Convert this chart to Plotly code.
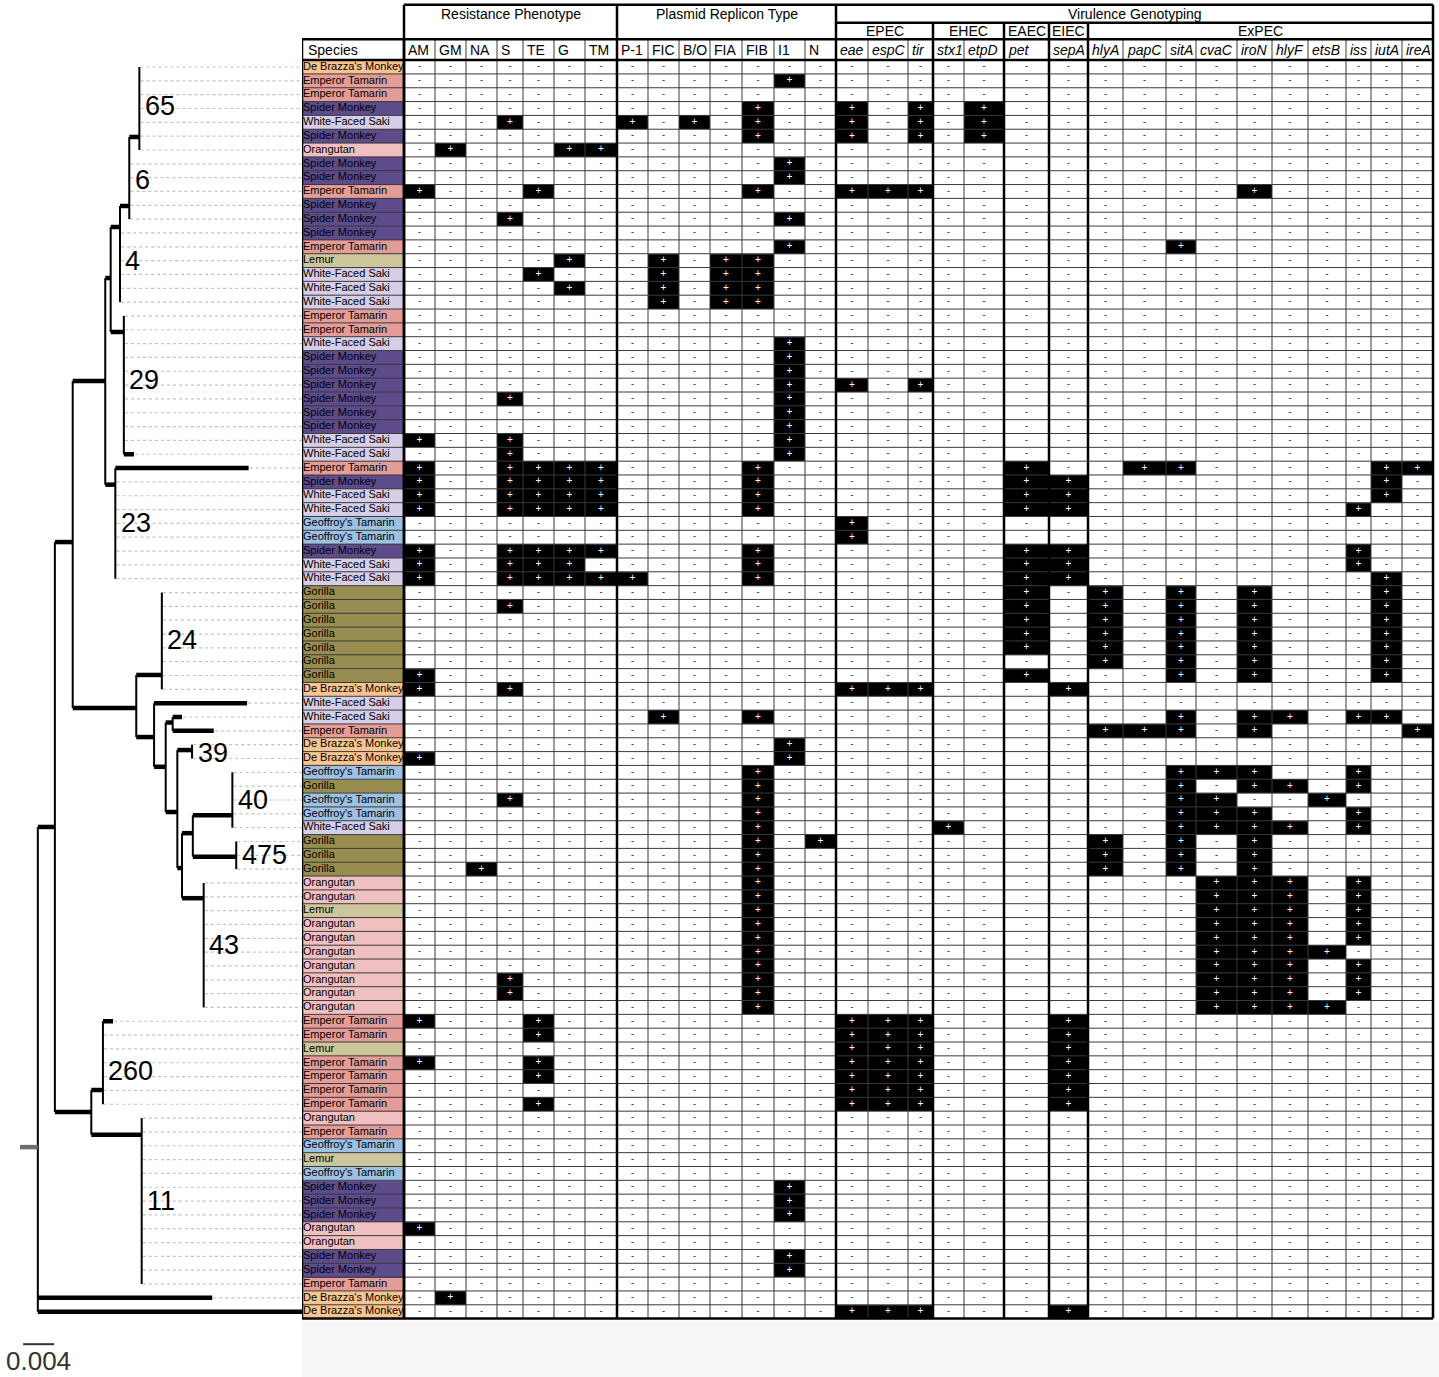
import plotly.graph_objects as go

# ---------------------------------------------------------------- data
species = [
    "De Brazza's Monkey", "Emperor Tamarin", "Emperor Tamarin", "Spider Monkey",
    "White-Faced Saki", "Spider Monkey", "Orangutan", "Spider Monkey", "Spider Monkey",
    "Emperor Tamarin",
    "Spider Monkey", "Spider Monkey", "Spider Monkey", "Emperor Tamarin", "Lemur",
    "White-Faced Saki", "White-Faced Saki", "White-Faced Saki", "Emperor Tamarin",
    "Emperor Tamarin",
    "White-Faced Saki", "Spider Monkey", "Spider Monkey", "Spider Monkey", "Spider Monkey",
    "Spider Monkey", "Spider Monkey", "White-Faced Saki", "White-Faced Saki",
    "Emperor Tamarin",
    "Spider Monkey", "White-Faced Saki", "White-Faced Saki", "Geoffroy's Tamarin",
    "Geoffroy's Tamarin", "Spider Monkey", "White-Faced Saki", "White-Faced Saki",
    "Gorilla", "Gorilla",
    "Gorilla", "Gorilla", "Gorilla", "Gorilla", "Gorilla", "De Brazza's Monkey",
    "White-Faced Saki", "White-Faced Saki", "Emperor Tamarin", "De Brazza's Monkey",
    "De Brazza's Monkey", "Geoffroy's Tamarin", "Gorilla", "Geoffroy's Tamarin",
    "Geoffroy's Tamarin", "White-Faced Saki", "Gorilla", "Gorilla", "Gorilla", "Orangutan",
    "Orangutan", "Lemur", "Orangutan", "Orangutan", "Orangutan", "Orangutan", "Orangutan",
    "Orangutan", "Orangutan", "Emperor Tamarin",
    "Emperor Tamarin", "Lemur", "Emperor Tamarin", "Emperor Tamarin", "Emperor Tamarin",
    "Emperor Tamarin", "Orangutan", "Emperor Tamarin", "Geoffroy's Tamarin", "Lemur",
    "Geoffroy's Tamarin", "Spider Monkey", "Spider Monkey", "Spider Monkey", "Orangutan",
    "Orangutan", "Spider Monkey", "Spider Monkey", "Emperor Tamarin", "De Brazza's Monkey",
    "De Brazza's Monkey",
]

species_colors = {
    "De Brazza's Monkey": "#f9c490",
    "Emperor Tamarin": "#e39c98",
    "Spider Monkey": "#5d4b8b",
    "White-Faced Saki": "#d6cde6",
    "Orangutan": "#f0c0c1",
    "Lemur": "#cdc69b",
    "Geoffroy's Tamarin": "#9ec0e2",
    "Gorilla": "#988d50",
}

resistance_cols = ["AM", "GM", "NA", "S", "TE", "G", "TM"]
replicon_cols = ["P-1", "FIC", "B/O", "FIA", "FIB", "I1", "N"]
virulence_cols = ["eae", "espC", "tir", "stx1", "etpD", "pet", "sepA", "hlyA", "papC",
                  "sitA", "cvaC", "iroN", "hlyF", "etsB", "iss", "iutA", "ireA"]
pathotypes = ["EPEC", "EHEC", "EAEC", "EIEC", "ExPEC"]
pathotype_genes = [3, 2, 1, 1, 10]

# one string per isolate, "+" = positive
R0 = "-------"
resistance_calls = [
    R0, R0, R0, R0, "---+---", R0, "-+---++", R0, R0, "+---+--",                      # 1-10
    R0, "---+---", R0, R0, "-----+-", "----+--", "-----+-", R0, R0, R0,                # 11-20
    R0, R0, R0, R0, "---+---", R0, R0, "+--+---", "---+---", "+--++++",                # 21-30
    "+--++++", "+--++++", "+--++++", R0, R0, "+--++++", "+--+++-", "+--++++", R0,
    "---+---",                                                                         # 31-40
    R0, R0, R0, R0, "+------", "+--+---", R0, R0, R0, R0,                              # 41-50
    "+------", R0, R0, "---+---", R0, R0, R0, R0, "--+----", R0,                       # 51-60
    R0, R0, R0, R0, R0, R0, "---+---", "---+---", R0, "+---+--",                       # 61-70
    "----+--", R0, "+---+--", "----+--", R0, "----+--", R0, R0, R0, R0,                # 71-80
    R0, R0, R0, R0, "+------", R0, R0, R0, R0, "-+-----",                              # 81-90
    R0,                                                                                # 91
]

replicon_calls = [
    R0, "-----+-", R0, "----+--", "+-+-+--", "----+--", R0, "-----+-", "-----+-",
    "----+--",                                                                         # 1-10
    R0, "-----+-", R0, "-----+-", "-+-++--", "-+-++--", "-+-++--", "-+-++--", R0, R0,  # 11-20
    ] + ["-----+-"] * 9 + ["----+--",                                                  # 21-30
    "----+--", "----+--", "----+--", R0, R0, "----+--", "----+--", "+---+--", R0, R0,  # 31-40
    R0, R0, R0, R0, R0, R0, R0, "-+--+--", R0, "-----+-",                              # 41-50
    "-----+-", "----+--", "----+--", "----+--", "----+--", "----+--", "----+-+",
    "----+--", "----+--", "----+--",                                                   # 51-60
    ] + ["----+--"] * 9 + [R0,                                                         # 61-70
    ] + [R0] * 10 + [                                                                  # 71-80
    R0, "-----+-", "-----+-", "-----+-", R0, R0, "-----+-", "-----+-", R0, R0,         # 81-90
    R0,                                                                                # 91
]

V0 = "-----------------"
EPEC_A = "+++---+----------"
GOR = "-----+-+-+-+---+-"
ORA = "----------+++-+--"
ORB = "----------++++---"
virulence_calls = [
    V0, V0, V0, "+-+-+------------", "+-+-+------------", "+-+-+------------", V0, V0,
    V0, "+++--------+-----",                                                           # 1-10
    V0, V0, V0, "---------+-------", V0, V0, V0, V0, V0, V0,                           # 11-20
    V0, V0, V0, "+-+--------------", V0, V0, V0, V0, V0, "-----+--++-----++",          # 21-30
    "-----++--------+-", "-----++--------+-", "-----++-------+--", "+----------------",
    "+----------------", "-----++-------+--", "-----++-------+--", "-----++--------+-",
    GOR, GOR,                                                                          # 31-40
    GOR, GOR, GOR, "-------+-+-+---+-", "-----+---+-+---+-", EPEC_A, V0,
    "---------+-++-++-", "-------+++-+----+", V0,                                      # 41-50
    V0, "---------+++--+--", "---------+-++-+--", "---------++--+---",
    "---------+++--+--", "---+-----++++-+--", "-------+-+-+-----", "-------+-+-+-----",
    "-------+-+-+-----", ORA,                                                          # 51-60
    ORA, ORA, ORA, ORA, ORB, ORA, ORA, ORA, ORB, EPEC_A,                               # 61-70
    EPEC_A, EPEC_A, EPEC_A, EPEC_A, EPEC_A, EPEC_A, V0, V0, V0, V0,                    # 71-80
    V0, V0, V0, V0, V0, V0, V0, V0, V0, V0,                                            # 81-90
    EPEC_A,                                                                            # 91
]

# phylogeny: depth in 0.001 substitutions/site, row where the stem joins
tree_nodes = ["R", "A", "B", "C", "ST260", "ST11", "F", "G", "ST4", "ST6", "ST65",
              "ST29", "ST23", "E", "ST24", "J", "K", "L", "M", "ST39", "N", "O",
              "ST40", "ST475", "ST43"]
tree_parents = [None, "R", "A", "A", "C", "C", "B", "F", "G", "ST4", "ST6",
                "G", "F", "B", "E", "E", "J", "K", "K", "M", "M", "N",
                "O", "O", "N"]
tree_depths = [2.3, 4.5, 6.8, 9.2, 10.7, 15.7, 11.0, 11.7, 12.9, 14.1, 15.4,
               13.4, 12.3, 15.0, 18.3, 17.3, 18.8, 19.7, 20.3, 22.2, 20.9, 22.3,
               27.4, 27.9, 23.7]
tree_rows = [79.1, 55.95, 35.35, 76.56, 74.97, 78.2, 23.7, 16.26, 12.57, 11.05, 6.06,
             20.16, 31.2, 47.35, 44.96, 49.45, 51.6, 48.4, 54.87, 50.39, 58.92, 56.4,
             55.1, 58.1, 61.1]
leaf_parent = (["ST65"] * 7 + ["ST6"] * 5 + ["ST4"] * 6 + ["ST29"] * 11 + ["ST23"] * 9
               + ["ST24"] * 8 + ["J"] + ["L"] * 2 + ["ST39"] * 2 + ["ST40"] * 5
               + ["ST475"] * 3 + ["ST43"] * 10 + ["ST260"] * 7 + ["ST11"] * 13 + ["R"] * 2)
leaf_tip = {29: 14.7, 30: 29.5, 47: 29.3, 48: 20.9, 49: 25.0, 70: 12.0, 90: 24.8, 91: 36.4}

st_nodes = ["ST65", "ST6", "ST4", "ST29", "ST23", "ST24", "ST39", "ST40", "ST475",
            "ST43", "ST260", "ST11"]
st_labels = ["65", "6", "4", "29", "23", "24", "39", "40", "475", "43", "260", "11"]
st_label_rows = [3.85, 9.2, 15.0, 23.6, 34.0, 42.4, 50.6, 54.0, 58.0, 64.5, 73.6, 83.0]

scale_bar = 4.0  # = 0.004

# ---------------------------------------------------------------- layout constants
W, H = 1439, 1377
ROW_PX = 13.83
ROW1_PX = 67
TABLE_LEFT = 302
TREE_PX_PER_UNIT = 7.75
TREE_ORIGIN_PX = 20
col_widths = [102,
              31, 31, 31, 26, 31, 31, 32,
              31, 31, 31, 32, 32, 31, 31,
              32, 40, 25, 31, 40, 45, 39, 35, 43, 30, 41, 35, 36, 38, 25, 31, 31]
FONT = "Liberation Sans, Arial, sans-serif"

edges = [0]
for w in col_widths:
    edges.append(edges[-1] + w)
right = edges[-1]
n_rows = len(species)
rows = list(range(1, n_rows + 1))
y_top = (0 - ROW1_PX) / ROW_PX + 1
y_bot = (H - ROW1_PX) / ROW_PX + 1
tree_max = (TABLE_LEFT - TREE_ORIGIN_PX) / TREE_PX_PER_UNIT

# header levels (row units)
HY_TOP, HY_MID, HY_LAB, HY_BOT = -3.5, -2.2, -1.0, 0.5

fig = go.Figure()

# species column
sp_names = list(species_colors)
n_sp = len(sp_names)
cscale = []
for i, name in enumerate(sp_names):
    cscale += [[i / n_sp, species_colors[name]], [(i + 1) / n_sp, species_colors[name]]]
fig.add_trace(go.Heatmap(
    z=[[sp_names.index(s)] for s in species], x=edges[0:2], y=rows,
    colorscale=cscale, zmin=-0.5, zmax=n_sp - 0.5, showscale=False, hoverinfo="skip"))

# presence / absence matrix
calls = [a + b + c for a, b, c in zip(resistance_calls, replicon_calls, virulence_calls)]
z = [[1 if ch == "+" else 0 for ch in row] for row in calls]
fig.add_trace(go.Heatmap(
    z=z, x=edges[1:], y=rows, colorscale=[[0, "white"], [1, "black"]],
    zmin=0, zmax=1, showscale=False, hoverinfo="skip"))

# grid lines
thick_edges = {0, 1, 8, 15, 18, 20, 21, 22, len(edges) - 1}
thin_x, thin_y, thick_x, thick_y = [], [], [], []
for k, e in enumerate(edges):
    if k in thick_edges:
        continue
    thin_x += [e, e, None]
    thin_y += [HY_LAB, n_rows + 0.5, None]
for r in range(1, n_rows):
    thin_x += [0, right, None]
    thin_y += [r + 0.5, r + 0.5, None]
for k in [0, 1]:
    thick_x += [edges[k], edges[k], None]
    thick_y += [HY_LAB, n_rows + 0.5, None]
for k in [1, 8, 15, len(edges) - 1]:
    thick_x += [edges[k], edges[k], None]
    thick_y += [HY_TOP, n_rows + 0.5, None]
for k in [18, 20, 21, 22]:
    thick_x += [edges[k], edges[k], None]
    thick_y += [HY_MID, n_rows + 0.5, None]
for y0, x0 in [(HY_BOT, 0), (n_rows + 0.5, 0), (HY_LAB, 0), (HY_MID, edges[15]), (HY_TOP, edges[1])]:
    thick_x += [x0, right, None]
    thick_y += [y0, y0, None]

fig.add_trace(go.Scatter(x=thin_x, y=thin_y, mode="lines",
                         line=dict(color="#3a3a3a", width=1), hoverinfo="skip"))
fig.add_trace(go.Scatter(x=thick_x, y=thick_y, mode="lines",
                         line=dict(color="black", width=2.5), hoverinfo="skip"))

# cell symbols
centers = [(edges[j + 1] + edges[j + 2]) / 2 for j in range(len(col_widths) - 1)]
px_, py_, mx_, my_ = [], [], [], []
for r, row in enumerate(calls, start=1):
    for j, ch in enumerate(row):
        if ch == "+":
            px_.append(centers[j]); py_.append(r)
        else:
            mx_.append(centers[j]); my_.append(r)
fig.add_trace(go.Scatter(x=mx_, y=my_, mode="text", text=["-"] * len(mx_),
                         textfont=dict(family=FONT, size=9, color="black"), hoverinfo="skip"))
fig.add_trace(go.Scatter(x=px_, y=py_, mode="text", text=["+"] * len(px_),
                         textfont=dict(family=FONT, size=10, color="white"), hoverinfo="skip"))

# species names
fig.add_trace(go.Scatter(x=[1] * n_rows, y=rows, mode="text", text=species,
                         textposition="middle right",
                         textfont=dict(family=FONT, size=11, color="black"), hoverinfo="skip"))

# ---------------------------------------------------------------- tree
depth = dict(zip(tree_nodes, tree_depths))
stem_row = dict(zip(tree_nodes, tree_rows))
kids = {n: [] for n in tree_nodes}
for n, p in zip(tree_nodes, tree_parents):
    if p:
        kids[p].append(stem_row[n])
for r, p in zip(rows, leaf_parent):
    kids[p].append(r)

hx, hy, vx, vy, dx, dy = [], [], [], [], [], []
for n, p in zip(tree_nodes, tree_parents):
    if p:
        hx += [depth[p], depth[n], None]
        hy += [stem_row[n], stem_row[n], None]
    vx += [depth[n], depth[n], None]
    vy += [min(kids[n]), max(kids[n]), None]
for r, p in zip(rows, leaf_parent):
    tip = leaf_tip.get(r, depth[p])
    if tip > depth[p]:
        hx += [depth[p], tip, None]
        hy += [r, r, None]
    if tip < tree_max:
        dx += [tip + 0.15, tree_max, None]
        dy += [r, r, None]

fig.add_trace(go.Scatter(x=dx, y=dy, xaxis="x2", mode="lines",
                         line=dict(color="#c4c4c4", width=1.2, dash="dot"), hoverinfo="skip"))
fig.add_trace(go.Scatter(x=vx, y=vy, xaxis="x2", mode="lines",
                         line=dict(color="black", width=2), hoverinfo="skip"))
fig.add_trace(go.Scatter(x=hx, y=hy, xaxis="x2", mode="lines",
                         line=dict(color="black", width=4.5), hoverinfo="skip"))
fig.add_trace(go.Scatter(x=[0, depth["R"]], y=[stem_row["R"]] * 2, xaxis="x2", mode="lines",
                         line=dict(color="#6e6e6e", width=4.5), hoverinfo="skip"))

# scale bar
fig.add_trace(go.Scatter(x=[0.4, 0.4 + scale_bar], y=[93.35, 93.35], xaxis="x2", mode="lines",
                         line=dict(color="#333333", width=2), hoverinfo="skip"))

annotations = []
for n, lab, yr in zip(st_nodes, st_labels, st_label_rows):
    annotations.append(dict(x=depth[n] + 0.45, y=yr, xref="x2", yref="y", text=lab,
                            showarrow=False, xanchor="left", yanchor="middle",
                            font=dict(family=FONT, size=27, color="black")))
annotations.append(dict(x=2.4, y=94.55, xref="x2", yref="y", text="0.004", showarrow=False,
                        xanchor="center", yanchor="middle",
                        font=dict(family=FONT, size=26, color="#333333")))

# ---------------------------------------------------------------- header text
hfont = dict(family=FONT, size=14, color="black")
annotations.append(dict(x=4, y=(HY_LAB + HY_BOT) / 2, xref="x", yref="y", text="Species",
                        showarrow=False, xanchor="left", yanchor="middle", font=hfont))
all_cols = resistance_cols + replicon_cols + ["<i>%s</i>" % g for g in virulence_cols]
for j, lab in enumerate(all_cols):
    annotations.append(dict(x=edges[j + 1] + 1.5, y=(HY_LAB + HY_BOT) / 2, xref="x", yref="y",
                            text=lab, showarrow=False, xanchor="left", yanchor="middle",
                            font=hfont))
for text, a, b in [("Resistance Phenotype", 1, 8), ("Plasmid Replicon Type", 8, 15),
                   ("Virulence Genotyping", 15, len(edges) - 1)]:
    annotations.append(dict(x=(edges[a] + edges[b]) / 2, y=-2.83, xref="x", yref="y",
                            text=text, showarrow=False, xanchor="center", yanchor="middle",
                            font=hfont))
k = 15
for name, ng in zip(pathotypes, pathotype_genes):
    annotations.append(dict(x=(edges[k] + edges[k + ng]) / 2, y=(HY_MID + HY_LAB) / 2,
                            xref="x", yref="y", text=name, showarrow=False,
                            xanchor="center", yanchor="middle", font=hfont))
    k += ng

fig.update_layout(
    width=W, height=H,
    margin=dict(l=0, r=0, t=0, b=0),
    paper_bgcolor="white", plot_bgcolor="white",
    showlegend=False,
    xaxis=dict(domain=[TABLE_LEFT / W, 1], range=[0, W - TABLE_LEFT], visible=False,
               fixedrange=True),
    xaxis2=dict(domain=[0, TABLE_LEFT / W],
                range=[-TREE_ORIGIN_PX / TREE_PX_PER_UNIT, tree_max],
                visible=False, anchor="y", fixedrange=True),
    yaxis=dict(domain=[0, 1], range=[y_bot, y_top], visible=False, fixedrange=True),
    annotations=annotations,
    shapes=[dict(type="rect", xref="x", yref="y", x0=0, x1=W - TABLE_LEFT,
                 y0=n_rows + 0.65, y1=y_bot, fillcolor="#f8f5f6", line=dict(width=0),
                 layer="below")],
)

# the page body has a default 8px margin; remove it so the figure sits at the corner
fig.write_html("out.html", config={"displayModeBar": False},
               post_script="document.body.style.margin='0px';")
